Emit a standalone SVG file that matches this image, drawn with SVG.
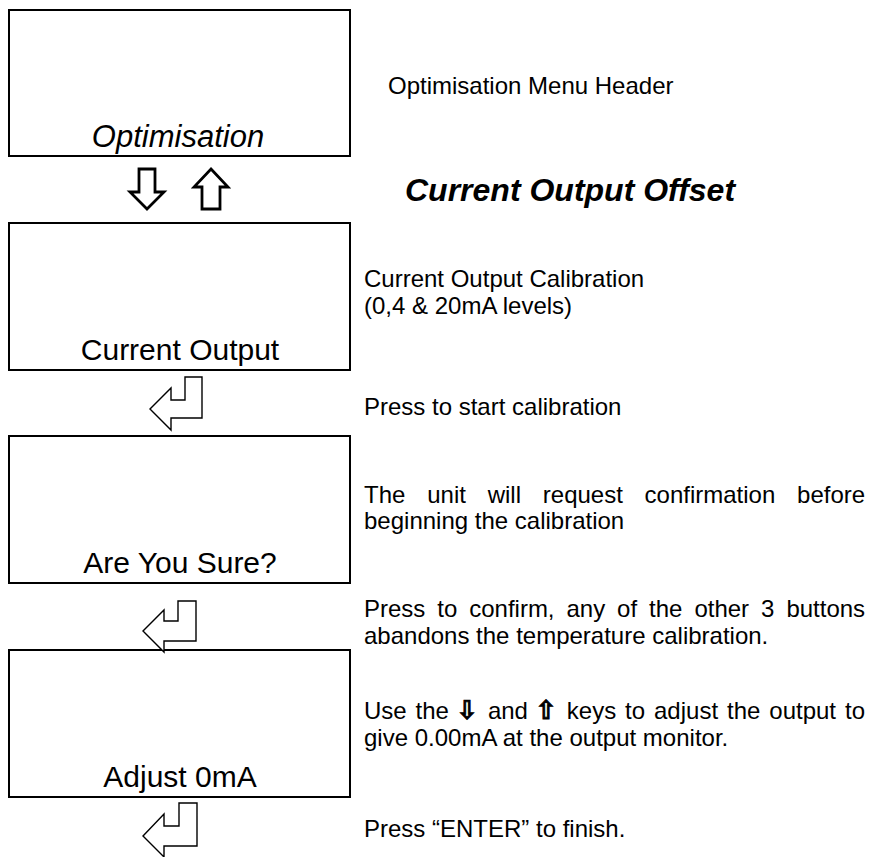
<svg xmlns="http://www.w3.org/2000/svg" width="869" height="857" viewBox="0 0 869 857">
  <style>
    .box { fill: #ffffff; stroke: #000000; stroke-width: 2; }
    .btxt { font-family: "Liberation Sans", Arial, sans-serif; font-size: 30px; fill: #000000; text-anchor: middle; }
    .it { font-style: italic; font-size: 31px; }
    .body { font-family: "Liberation Sans", Arial, sans-serif; font-size: 24px; fill: #000000; }
    .title { font-family: "Liberation Sans", Arial, sans-serif; font-size: 32px; font-weight: bold; font-style: italic; fill: #000000; }
    .sym { font-family: "DejaVu Sans", sans-serif; font-size: 26px; font-weight: bold; fill: #000000; stroke: #000000; stroke-width: 0.8; }
    .bigarrow { fill: #ffffff; stroke: #000000; stroke-width: 2.8; stroke-linejoin: miter; }
    .enter { fill: #ffffff; stroke: #000000; stroke-width: 1.4; stroke-linejoin: miter; }
  </style>
  <rect width="869" height="857" fill="#ffffff"/>

  <!-- menu screens -->
  <g id="screen-optimisation">
    <rect class="box" x="9" y="10" width="341" height="146"/>
    <text class="btxt it" x="178" y="147">Optimisation</text>
  </g>
  <g id="screen-current-output">
    <rect class="box" x="9" y="223" width="341" height="147"/>
    <text class="btxt" x="180" y="360">Current Output</text>
  </g>
  <g id="screen-are-you-sure">
    <rect class="box" x="9" y="436" width="341" height="147"/>
    <text class="btxt" x="180" y="573">Are You Sure?</text>
  </g>
  <g id="screen-adjust">
    <rect class="box" x="9" y="650" width="341" height="147"/>
    <text class="btxt" x="180" y="787">Adjust 0mA</text>
  </g>

  <!-- navigation keys between screens -->
  <g id="connectors">
    <!-- down / up keys -->
    <path class="bigarrow" d="M139,169 H155 V192 H164 L147,209 L130,192 H139 Z"/>
    <path class="bigarrow" d="M211,169 L228,187 H220 V209 H202 V187 H194 Z"/>
    <!-- enter keys -->
    <path class="enter" d="M150,409 L171,388 V400 H185 V377 H202 V418 H171 V430 Z"/>
    <path class="enter" d="M143,631 L164,610 V621 H178 V601 H196 V641 H164 V652 Z"/>
    <path class="enter" d="M143,836 L164,814 V826 H179 V803 H197 V846 H164 V857 Z"/>
  </g>

  <!-- descriptions -->
  <g id="descriptions">
    <text class="body" x="388" y="94">Optimisation Menu Header</text>
    <text class="title" x="405" y="201">Current Output Offset</text>
    <text class="body" x="364" y="287">Current Output Calibration</text>
    <text class="body" x="364" y="314">(0,4 &amp; 20mA levels)</text>
    <text class="body" x="364" y="415">Press to start calibration</text>

    <text class="body" y="503"><tspan x="364">The</tspan><tspan x="427.2">unit</tspan><tspan x="487.7">will</tspan><tspan x="542.8">request</tspan><tspan x="644.6">confirmation</tspan><tspan x="797.1">before</tspan></text>
    <text class="body" x="364" y="529">beginning the calibration</text>

    <text class="body" y="617"><tspan x="364">Press</tspan><tspan x="437.3">to</tspan><tspan x="469.2">confirm,</tspan><tspan x="566.5">any</tspan><tspan x="617.1">of</tspan><tspan x="649.1">the</tspan><tspan x="694.4">other</tspan><tspan x="761.1">3</tspan><tspan x="786.4">buttons</tspan></text>
    <text class="body" x="364" y="644">abandons the temperature calibration.</text>

    <text class="body" y="719"><tspan x="364">Use</tspan><tspan x="415.6">the</tspan><tspan class="sym" x="456">⇩</tspan><tspan x="487.9">and</tspan><tspan class="sym" x="535">⇧</tspan><tspan x="566.8">keys</tspan><tspan x="625.1">to</tspan><tspan x="654">adjust</tspan><tspan x="727">the</tspan><tspan x="769.3">output</tspan><tspan x="845">to</tspan></text>
    <text class="body" x="364" y="746">give 0.00mA at the output monitor.</text>

    <text class="body" x="364" y="837">Press “ENTER” to finish.</text>
  </g>
</svg>
